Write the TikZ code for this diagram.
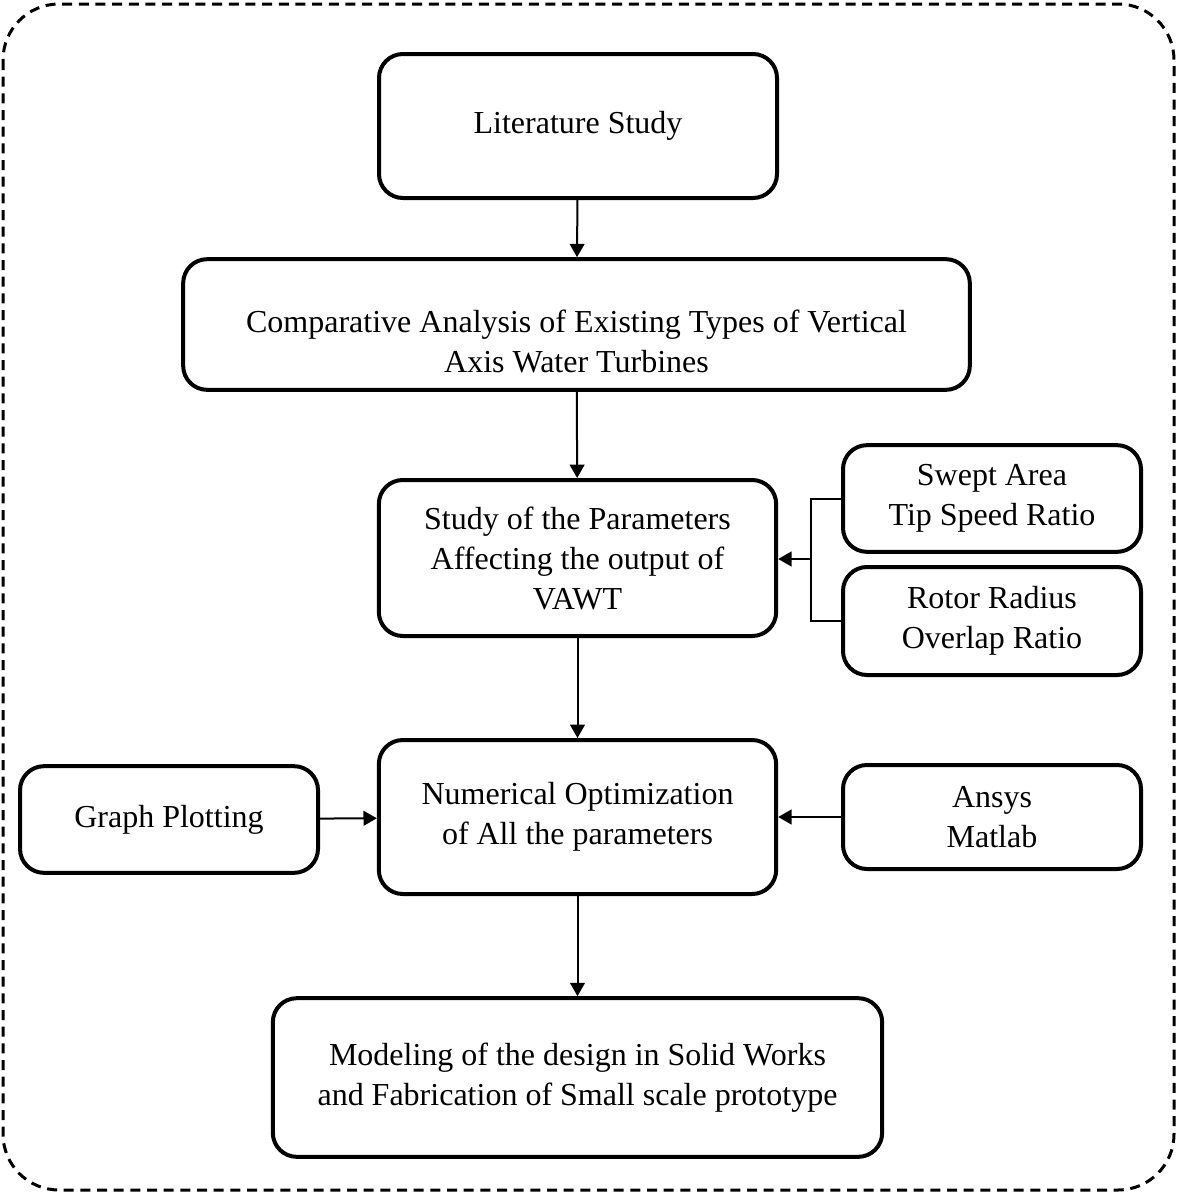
\documentclass[tikz,border=0pt]{standalone}
\usepackage{fontspec}
\setmainfont{Liberation Serif}
\usetikzlibrary{arrows.meta}

\tikzset{
  box/.style={draw, line width=3pt, rounded corners=18pt, align=center,
    font=\fontsize{24}{30}\selectfont, inner sep=0pt},
  txt/.style={align=center, font=\fontsize{24}{30}\selectfont, inner sep=0pt},
  arr/.style={line width=1.5pt, -{Triangle[length=10pt,width=11pt]}}
}

\begin{document}
\begin{tikzpicture}[x=0.75pt,y=0.75pt,yscale=-1,xscale=1]
\useasboundingbox (0,0) rectangle (1177,1193);

%Outer frame
\draw [line width=2.25pt, dash pattern=on 7.5pt off 5pt, rounded corners=42pt] (3,4) rectangle (1174,1190);

%Main column
\node [box, minimum width=298.5pt, minimum height=108pt] (lit) at (578,126) {Literature Study};
\node [box, minimum width=590pt, minimum height=98pt] (comp) at (576.5,324.5) {};
\node [txt] (comptxt) at ([yshift=13pt]comp.center) {Comparative Analysis of Existing Types of Vertical\\Axis Water Turbines};
\node [box, minimum width=298pt, minimum height=117pt] (study) at (577.5,558) {Study of the Parameters\\Affecting the output of\\VAWT};
\node [box, minimum width=298pt, minimum height=115.5pt] (num) at (577.5,817) {Numerical Optimization\\of All the parameters};
\node [box, minimum width=457pt, minimum height=119pt] (model) at (577.5,1077.5) {Modeling of the design in Solid Works\\and Fabrication of Small scale prototype};

%Side boxes
\node [box, minimum width=223.5pt, minimum height=80pt] (swept) at (992,498.5) {Swept Area\\Tip Speed Ratio};
\node [box, minimum width=223.5pt, minimum height=81pt] (rotor) at (992,621) {Rotor Radius\\Overlap Ratio};
\node [box, minimum width=223.5pt, minimum height=80pt] (graph) at (169,819.5) {Graph Plotting};
\node [box, minimum width=223.5pt, minimum height=78pt] (ansys) at (992,817) {Ansys\\Matlab};

%Arrows
\draw [arr] (lit) -- (comp);
\draw [arr] (comp) -- (study);
\draw [arr] (study) -- (num);
\draw [arr] (num) -- (model);
\draw [arr] (graph) -- (num);
\draw [arr] (ansys) -- (num);

%Bracket
\coordinate (brk) at (811,559);
\draw [line width=1.5pt] (swept.west) -| (brk) |- (rotor.west);
\draw [arr] (brk) -- (study.east|-brk);

\end{tikzpicture}
\end{document}
